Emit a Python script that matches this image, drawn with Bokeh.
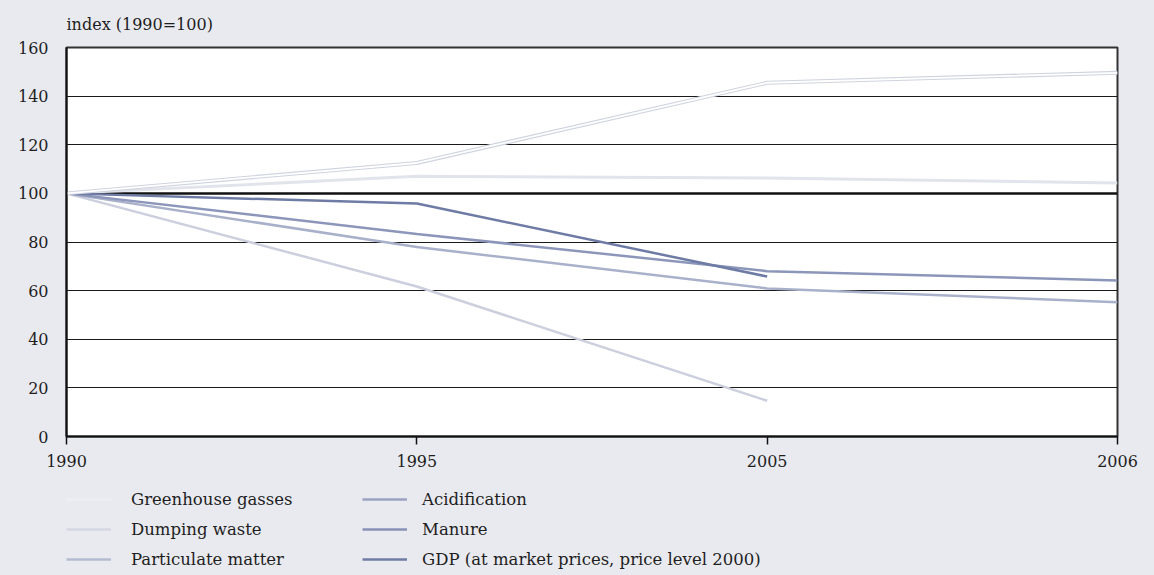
import numpy as np
from bokeh.plotting import figure
from bokeh.layouts import column
from bokeh.models import Range1d, FixedTicker, Span, Legend, LegendItem, Label
from bokeh.embed import file_html
from bokeh.resources import INLINE

# ---- data ----
years = ["1990", "1995", "2005", "2006"]
greenhouse = [100, 107.0, 106.3, 104.3]
dumping = [100, 61.7, 14.7, np.nan]
particulate = [100, 77.9, 60.9, 55.2]
acidification = [100, 83.3, 68.0, 64.2]
manure = [100, 95.8, 65.8, np.nan]
gdp = [100, 112.5, 145.5, 149.6]
y_ticks = [0, 20, 40, 60, 80, 100, 120, 140, 160]
legend_labels = ["Greenhouse gasses", "Dumping waste", "Particulate matter",
                 "Acidification", "Manure", "GDP (at market prices, price level 2000)"]
axis_title = "index (1990=100)"

# ---- style ----
BG = "#e9eaf0"
FONT = "DejaVu Serif"
TXT = "#1e1e1e"
line_colors = ["#e2e4ec", "#cbcfde", "#a9b1ca", "#8c96ba", "#6e7ba5", "#d0d3e0"]
legend_colors = ["#eceef3", "#d4d7e3", "#b5bcd1", "#99a2c1", "#8792b7", "#6f7ca5"]

xs = list(range(len(years)))


def strip(height):
    f = figure(width=1154, height=height, output_backend="svg", toolbar_location=None,
               x_range=Range1d(0, 1), y_range=Range1d(0, 1),
               x_axis_type=None, y_axis_type=None,
               min_border_left=66, min_border_right=37, min_border_top=0, min_border_bottom=0,
               background_fill_alpha=0, border_fill_color=BG, outline_line_color=None)
    f.xgrid.visible = False
    f.ygrid.visible = False
    return f


# ---- top strip with the axis title ----
TH = 35
t = strip(TH)
t.add_layout(Label(x=0, y=TH - 24, x_units="screen", y_units="screen",
                   text=axis_title, text_font=FONT, text_font_size="16px",
                   text_color=TXT, text_baseline="middle", text_align="left"))

# ---- main chart ----
p = figure(width=1154, height=443, output_backend="svg", toolbar_location=None,
           x_range=Range1d(0, len(years) - 1), y_range=Range1d(0, 160),
           min_border_left=66, min_border_right=37, min_border_top=12, min_border_bottom=42,
           background_fill_color="white", border_fill_color=BG,
           outline_line_color="#333333", outline_line_width=2)
p.title.visible = False

p.xgrid.visible = False
p.ygrid.ticker = FixedTicker(ticks=y_ticks)
p.ygrid.grid_line_color = "#1a1a1a"
p.ygrid.grid_line_width = 1

p.yaxis.ticker = FixedTicker(ticks=y_ticks)
p.yaxis.major_tick_line_color = None
p.yaxis.minor_tick_line_color = None
p.yaxis.axis_line_width = 2
p.yaxis.axis_line_color = "#111111"
p.yaxis.major_label_standoff = 12
p.yaxis.major_label_text_font = FONT
p.yaxis.major_label_text_font_size = "16px"
p.yaxis.major_label_text_color = TXT

p.xaxis.ticker = FixedTicker(ticks=xs)
p.xaxis.major_label_overrides = {i: y for i, y in enumerate(years)}
p.xaxis.major_tick_out = 8
p.xaxis.major_tick_in = 0
p.xaxis.major_tick_line_width = 1.5
p.xaxis.major_tick_line_color = "#111111"
p.xaxis.minor_tick_line_color = None
p.xaxis.axis_line_width = 2
p.xaxis.axis_line_color = "#111111"
p.xaxis.major_label_standoff = 10
p.xaxis.major_label_text_font = FONT
p.xaxis.major_label_text_font_size = "16px"
p.xaxis.major_label_text_color = TXT

p.add_layout(Span(location=100, dimension="width", line_color="#111111",
                  line_width=2.5, level="underlay"))

# ---- lines ----
p.line(xs, greenhouse, line_color=line_colors[0], line_width=3)
p.line(xs, dumping, line_color=line_colors[1], line_width=2.5)
p.line(xs, particulate, line_color=line_colors[2], line_width=2.5)
p.line(xs, acidification, line_color=line_colors[3], line_width=2.5)
p.line(xs, manure, line_color=line_colors[4], line_width=2.5)
p.line(xs, gdp, line_color=line_colors[5], line_width=4)
p.line(xs, gdp, line_color="white", line_width=1.8)

# ---- legend strip below the chart ----
q = strip(97)
items = []
for lab, col in zip(legend_labels, legend_colors):
    r = q.line([np.nan], [np.nan], line_color=col, line_width=2.5)
    items.append(LegendItem(label=lab, renderers=[r]))


def make_legend(its, loc, standoff):
    return Legend(items=its, location=loc, orientation="vertical",
                  background_fill_alpha=0, border_line_color=None,
                  padding=0, margin=0, spacing=10, label_height=20, glyph_height=20,
                  glyph_width=45, label_standoff=standoff,
                  label_text_font=FONT, label_text_font_size="16.5px",
                  label_text_color=TXT)


q.add_layout(make_legend(items[:3], (0, 6), 20))
q.add_layout(make_legend(items[3:], (296, 6), 15))

layout = column(t, p, q, spacing=0, styles={"background-color": BG})
open("out.html", "w").write(file_html(layout, INLINE))
